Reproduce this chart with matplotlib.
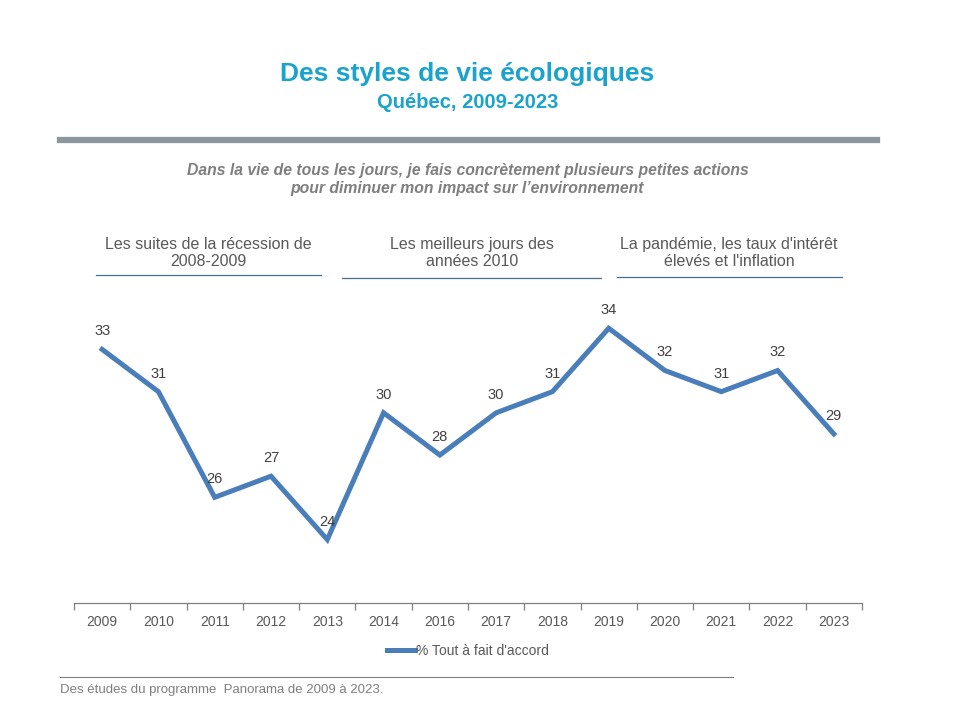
import numpy as np
import matplotlib.pyplot as plt
from matplotlib.lines import Line2D

plt.rcParams['font.family'] = ['Liberation Sans', 'DejaVu Sans']

# --- Data ---
years = ['2009', '2010', '2011', '2012', '2013', '2014', '2016',
         '2017', '2018', '2019', '2020', '2021', '2022', '2023']
values = [33, 31, 26, 27, 24, 30, 28, 30, 31, 34, 32, 31, 32, 29]
series_name = "% Tout à fait d'accord"

periods = ['Les suites de la récession de\n2008-2009',
           'Les meilleurs jours des\nannées 2010',
           "La pandémie, les taux d'intérêt\nélevés et l'inflation"]

# --- Colours ---
title_col = '#1AA3CC'
line_col = '#4A7EBB'
grey_txt = '#595959'

fig = plt.figure(figsize=(9.6, 7.2), dpi=100)

# Titles
fig.text(0.487, 1-74/720, 'Des styles de vie écologiques', ha='center', va='center',
         color=title_col, fontsize=19, fontweight='bold')
fig.text(0.487, 1-103/720, 'Québec, 2009-2023', ha='center', va='center',
         color=title_col, fontsize=14.5, fontweight='bold')

# Thick grey separator
fig.add_artist(Line2D([60/960, 877/960], [1-140/720, 1-140/720], color='#8C969E', lw=4.5))

# Question text
fig.text(0.487, 1-179/720, 'Dans la vie de tous les jours, je fais concrètement plusieurs petites actions\n'
         'pour diminuer mon impact sur l\u2019environnement', ha='center', va='center',
         color='#7F7F7F', fontsize=11.3, fontweight='bold', style='italic', linespacing=1.25)

# Period headings with underline
period_x = [208, 472, 729]
period_lines = [(96, 321, 275), (342, 601, 278), (617, 842, 277)]
for lab, cx, (x0, x1, yl) in zip(periods, period_x, period_lines):
    fig.text(cx/960, 1-253/720, lab, ha='center', va='center', color=grey_txt,
             fontsize=11.5, linespacing=1.2)
    fig.add_artist(Line2D([x0/960, x1/960], [1-yl/720, 1-yl/720], color='#4A6F8F', lw=0.9))

# --- Main chart ---
ax = fig.add_axes([74/960, 1-603/720, 788/960, 317/720])
x = np.arange(len(years))
ax.plot(x, values, color=line_col, lw=3.6, solid_joinstyle='miter', label=series_name)
for xi, v in zip(x, values):
    ax.annotate(str(v), (xi, v), xytext=(0, 13), textcoords='offset points',
                ha='center', va='center', fontsize=10.5, color='#404040')

ax.set_xlim(-0.5, len(years) - 0.5)
ax.set_ylim(21, 36)
ax.set_yticks([])
for s in ['top', 'right', 'left']:
    ax.spines[s].set_visible(False)
ax.spines['bottom'].set_color('#7F7F7F')
ax.spines['bottom'].set_linewidth(0.9)

ax.set_xticks(np.arange(-0.5, len(years)), minor=False)
ax.set_xticklabels([])
ax.tick_params(axis='x', which='major', length=5, color='#7F7F7F', width=0.9)
ax.set_xticks(x, minor=True)
ax.set_xticklabels(years, minor=True)
ax.tick_params(axis='x', which='minor', length=0, pad=9, labelsize=10, labelcolor=grey_txt)

ax.legend(loc='upper center', bbox_to_anchor=(0.5, -0.09), frameon=False,
          fontsize=10, handlelength=2.0, handletextpad=0.1, labelcolor=grey_txt)

# Footer
fig.add_artist(Line2D([60/960, 733/960], [1-677/720, 1-677/720], color='#7F7F7F', lw=0.8))
fig.text(60/960, 1-690/720, 'Des études du programme  Panorama de 2009 à 2023.', ha='left',
         va='center', fontsize=9.5, color='#7F7F7F')

fig.savefig('out.png', dpi=100)
